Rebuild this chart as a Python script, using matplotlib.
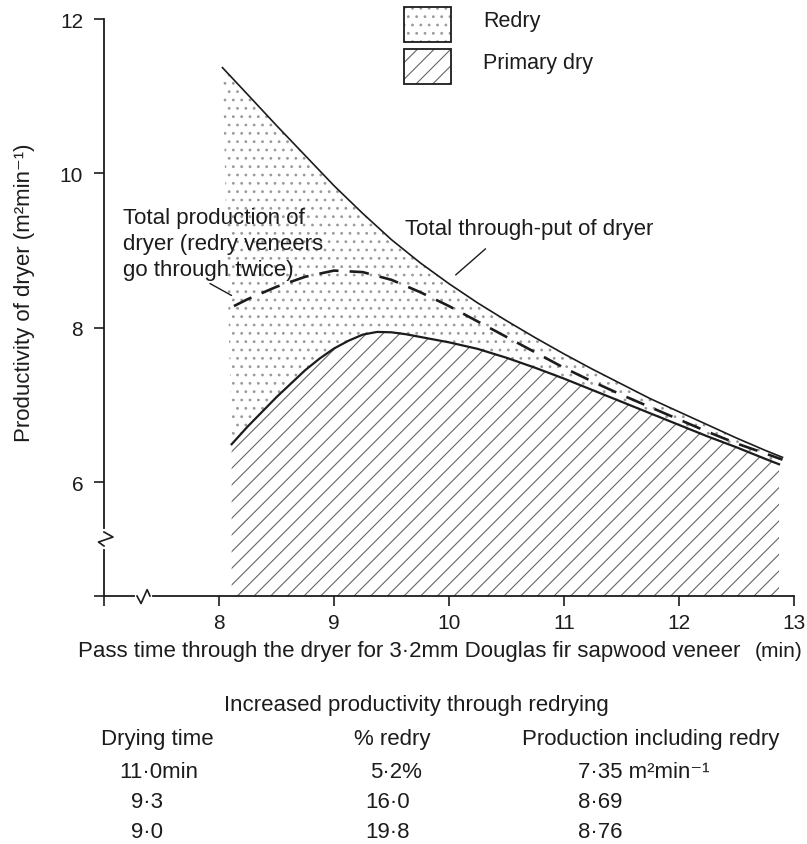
import matplotlib
matplotlib.use('Agg')
import matplotlib.pyplot as plt
from matplotlib.patches import Rectangle

plt.rcParams['font.family'] = ['Liberation Sans', 'DejaVu Sans']
plt.rcParams['hatch.linewidth'] = 0.8
plt.rcParams['lines.scale_dashes'] = False

# total through-put of dryer (upper solid line)
thru_x = [8.03, 8.25, 8.5, 8.75, 9.0, 9.25, 9.5, 9.75, 10.0, 10.25, 10.5, 10.75,
          11.0, 11.25, 11.5, 11.75, 12.0, 12.25, 12.5, 12.75, 12.9]
thru_y = [11.37, 11.02, 10.62, 10.23, 9.84, 9.48, 9.14, 8.84, 8.57, 8.32, 8.09, 7.87,
          7.66, 7.46, 7.27, 7.08, 6.91, 6.74, 6.57, 6.41, 6.32]

# total production of dryer, redry veneers counted twice (dashed)
prod_x = [8.13, 8.25, 8.5, 8.75, 9.0, 9.25, 9.5, 9.75, 10.0, 10.25, 10.5, 10.75,
          11.0, 11.25, 11.5, 11.75, 12.0, 12.25, 12.5, 12.75, 12.9]
prod_y = [8.28, 8.37, 8.53, 8.66, 8.74, 8.72, 8.62, 8.46, 8.28, 8.08, 7.88, 7.68,
          7.48, 7.3, 7.13, 6.97, 6.81, 6.65, 6.5, 6.37, 6.29]

# primary dry (lower solid line)
prim_x = [8.11, 8.25, 8.5, 8.75, 8.875, 9.0, 9.125, 9.25, 9.375, 9.5, 9.625, 9.75,
          9.875, 10.0, 10.25, 10.5, 10.75, 11.0, 11.25, 11.5, 11.75, 12.0, 12.25,
          12.5, 12.75, 12.87]
prim_y = [6.49, 6.72, 7.1, 7.45, 7.6, 7.73, 7.83, 7.91, 7.945, 7.94, 7.915, 7.88,
          7.845, 7.81, 7.725, 7.61, 7.48, 7.34, 7.19, 7.04, 6.89, 6.74, 6.59,
          6.45, 6.3, 6.23]

x_ticks = [8, 9, 10, 11, 12, 13]
y_ticks = [6, 8, 10, 12]

legend_labels = ['Redry', 'Primary dry']

table_title = 'Increased productivity through redrying'
table_head = ['Drying time', '% redry', 'Production including redry']
dry_time = ['11·0min', '9·3', '9·0']
pct_redry = ['5·2%', '16·0', '19·8']
prod_redry = ['7·35 m²min⁻¹', '8·69', '8·76']

W, H = 807, 845
ink = '#1c1c1c'
dot_c = '#9a9a9a'
hatch_c = '#666666'
fs = 16

fig = plt.figure(figsize=(W / 100, H / 100), dpi=100)
ax = fig.add_axes([104 / W, (H - 597) / H, 690 / W, 577 / H])
x0, x1 = 7.0, 13.0
y0, y1 = 4.523, 12.0
ax.set_xlim(x0, x1)
ax.set_ylim(y0, y1)

# areas
hx = list(prim_x) + [prim_x[-1], prim_x[0]]
hy = list(prim_y) + [y0, y0]
ax.fill(hx, hy, facecolor='none', edgecolor=hatch_c, hatch='//', lw=0, zorder=1)
dx = list(thru_x) + list(prim_x[::-1])
dy = list(thru_y) + list(prim_y[::-1])
ax.fill(dx, dy, facecolor='none', edgecolor=dot_c, hatch='..', lw=0, zorder=1)

# curves
ax.plot(thru_x, thru_y, color=ink, lw=1.2, zorder=3)
ax.plot(prim_x, prim_y, color=ink, lw=1.6, zorder=3)
ax.plot(prod_x, prod_y, color=ink, lw=1.9, dashes=(14, 8), zorder=3)

# axes styling
for s in ['top', 'right']:
    ax.spines[s].set_visible(False)
for s in ['left', 'bottom']:
    ax.spines[s].set_linewidth(1.3)
    ax.spines[s].set_color(ink)
ax.set_xticks([x0] + x_ticks)
ax.set_xticklabels([''] + [str(t) for t in x_ticks])
ax.set_yticks([y0] + y_ticks)
ax.set_yticklabels([''] + [str(t) for t in y_ticks])
ax.tick_params(axis='both', direction='out', length=7, width=1.2, color=ink,
               labelsize=15, labelcolor=ink)
ax.tick_params(axis='y', pad=8)
ax.tick_params(axis='x', pad=5)

# axis breaks
ytr = ax.get_yaxis_transform()
ax.plot([0, 0], [5.36, 5.16], color='white', lw=3, transform=ytr, clip_on=False, zorder=4)
ax.plot([0, 0.013, -0.008, 0], [5.352, 5.287, 5.222, 5.171], color=ink, lw=1.2,
        transform=ytr, clip_on=False, zorder=5)
xtr = ax.get_xaxis_transform()
ax.plot([7.29, 7.40], [0, 0], color='white', lw=3, transform=xtr, clip_on=False, zorder=4)
ax.plot([7.287, 7.322, 7.375, 7.40], [0, -0.013, 0.011, 0], color=ink, lw=1.2,
        transform=xtr, clip_on=False, zorder=5)

# annotations
ax.text(7.165, 9.56, 'Total production of\ndryer (redry veneers\ngo through twice)',
        ha='left', va='top', fontsize=fs, color=ink, linespacing=1.3)
ax.annotate('', xy=(8.13, 8.40), xytext=(7.90, 8.59),
            arrowprops=dict(arrowstyle='-', lw=1.0, color=ink))
ax.text(9.62, 9.28, 'Total through-put of dryer', ha='left', va='center',
        fontsize=fs, color=ink)
ax.annotate('', xy=(10.04, 8.66), xytext=(10.336, 9.046),
            arrowprops=dict(arrowstyle='-', lw=1.0, color=ink))

# legend boxes
for i, (lab, hatch, hc) in enumerate(zip(legend_labels, ['..', '//'], [dot_c, hatch_c])):
    top = 8 + i * 42
    fig.add_artist(Rectangle((404 / W, (H - top - 35) / H), 47 / W, 35 / H,
                             transform=fig.transFigure, facecolor='white',
                             edgecolor=hc, hatch=hatch, lw=0))
    fig.add_artist(Rectangle((404 / W, (H - top - 35) / H), 47 / W, 35 / H,
                             transform=fig.transFigure, facecolor='none',
                             edgecolor=ink, lw=1.3))
    fig.text(483 / W, 1 - (top + 14) / H, lab, ha='left', va='center', fontsize=15.5, color=ink)

# axis labels
fig.text(78 / W, 1 - 652 / H, 'Pass time through the dryer for 3·2mm Douglas fir sapwood veneer',
         ha='left', va='center', fontsize=fs, color=ink)
fig.text(803 / W, 1 - 652 / H, '(min)', ha='right', va='center', fontsize=15, color=ink)
fig.text(25 / W, 1 - 293 / H, 'Productivity of dryer (m²min⁻¹)', rotation=90,
         ha='center', va='center', fontsize=fs, color=ink)

# table
fig.text(416 / W, 1 - 705 / H, table_title, ha='center', va='center', fontsize=fs, color=ink)
for cx, head in zip([157, 392, 651], table_head):
    fig.text(cx / W, 1 - 740 / H, head, ha='center', va='center', fontsize=fs, color=ink)
row_y = [773, 803, 833]
for i in range(3):
    fig.text((119 if i == 0 else 131) / W, 1 - row_y[i] / H, dry_time[i],
             ha='left', va='center', fontsize=fs, color=ink)
    fig.text((370 if i == 0 else 365) / W, 1 - row_y[i] / H, pct_redry[i],
             ha='left', va='center', fontsize=fs, color=ink)
    fig.text(578 / W, 1 - row_y[i] / H, prod_redry[i],
             ha='left', va='center', fontsize=fs, color=ink)

fig.savefig('out.png', dpi=100)
